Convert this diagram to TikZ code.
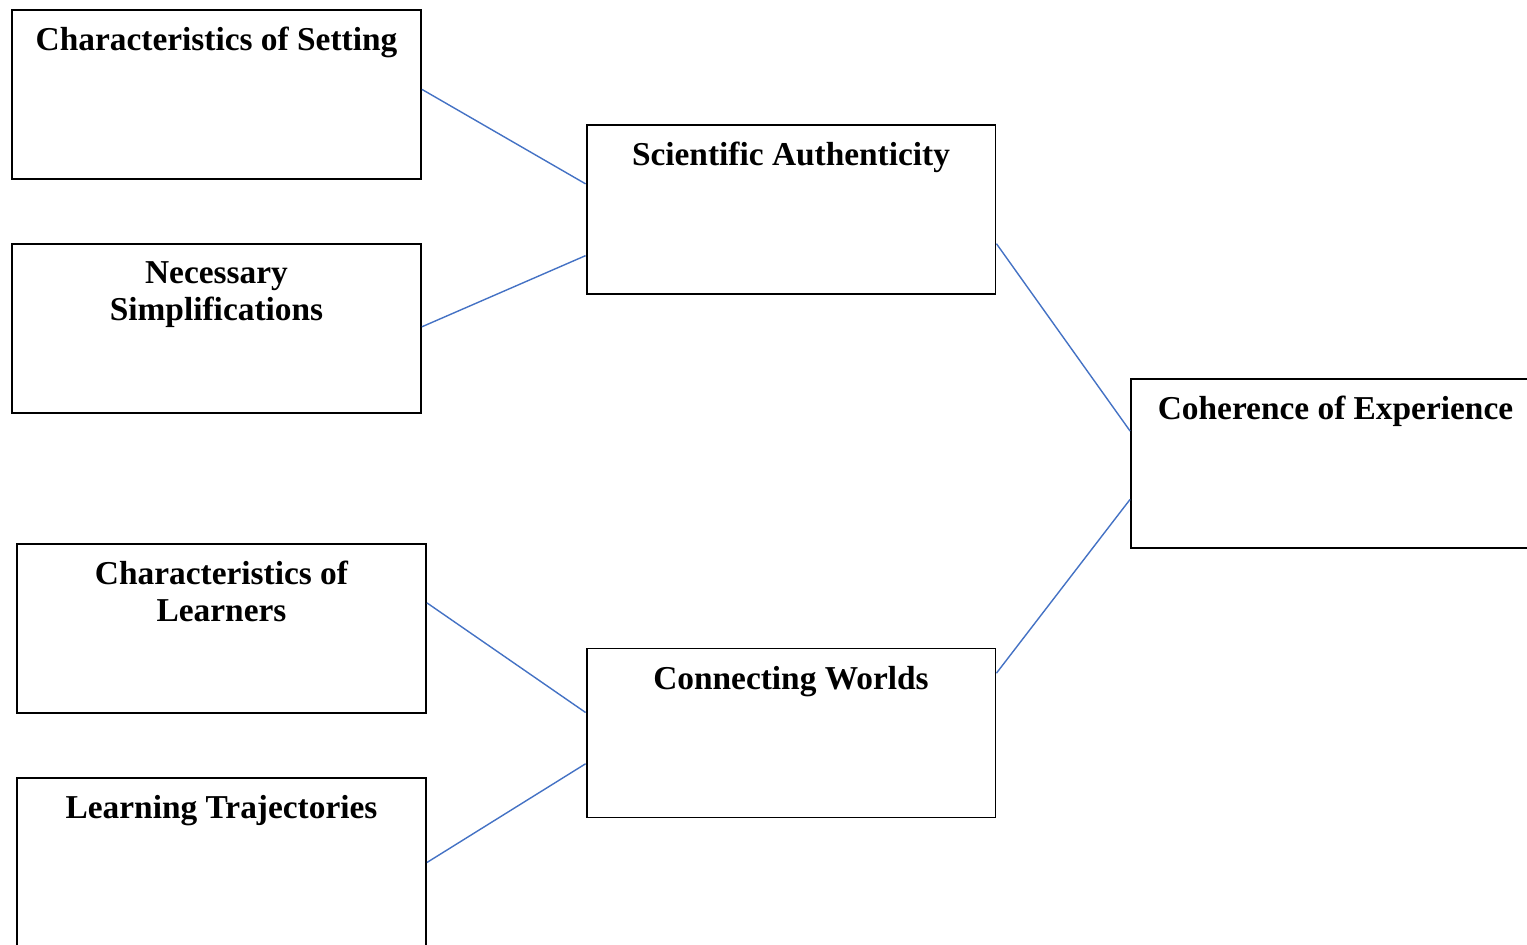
\documentclass[tikz,border=0pt]{standalone}
\usepackage{fontspec}
\setmainfont{Liberation Serif}
\usetikzlibrary{positioning, calc}
\definecolor{linkblue}{RGB}{68,114,196}
\tikzset{
  x=0.02cm,
  y=-0.02cm,
  block/.style={draw, line width=1.1pt, minimum width=8.18cm, minimum height=3.38cm, inner sep=0pt},
  heading/.style={anchor=north, align=center, inner sep=0pt,
    font=\bfseries\fontsize{19}{21}\selectfont},
  link/.style={draw=linkblue, line width=0.8pt},
}

\begin{document}
\begin{tikzpicture}
  \useasboundingbox (0,0) rectangle (1527,945);

  % left column
  \node[block] (setting)  at (216.5,94.5)  {};
  \node[block] (simpl)    at (216.5,328.5) {};
  \node[block] (learners) at (221.5,628.5) {};
  \node[block] (traject)  at (221.5,862.5) {};

  % middle column
  \node[block] (auth)  at (791,209.5) {};
  \node[block] (worlds) at (791,733)  {};

  % right
  \node[block] (coher) at (1335.5,463.5) {};

  \node[heading, below=0.36cm of setting.north]  {Characteristics of Setting};
  \node[heading, below=0.36cm of simpl.north]    {Necessary\\Simplifications};
  \node[heading, below=0.36cm of learners.north] {Characteristics of\\Learners};
  \node[heading, below=0.36cm of traject.north]  {Learning Trajectories};
  \node[heading, below=0.36cm of auth.north]     {Scientific Authenticity};
  \node[heading, below=0.36cm of worlds.north]   {Connecting Worlds};
  \node[heading, below=0.36cm of coher.north]    {Coherence of Experience};

  \draw[link] ($(setting.north east)!0.47!(setting.south east)$)   -- ($(auth.north west)!0.35!(auth.south west)$);
  \draw[link] ($(simpl.north east)!0.49!(simpl.south east)$)       -- ($(auth.north west)!0.77!(auth.south west)$);
  \draw[link] ($(learners.north east)!0.35!(learners.south east)$) -- ($(worlds.north west)!0.38!(worlds.south west)$);
  \draw[link] ($(traject.north east)!0.5!(traject.south east)$)    -- ($(worlds.north west)!0.68!(worlds.south west)$);
  \draw[link] ($(auth.north east)!0.70!(auth.south east)$)         -- ($(coher.north west)!0.31!(coher.south west)$);
  \draw[link] ($(worlds.north east)!0.15!(worlds.south east)$)     -- ($(coher.north west)!0.71!(coher.south west)$);
\end{tikzpicture}
\end{document}
